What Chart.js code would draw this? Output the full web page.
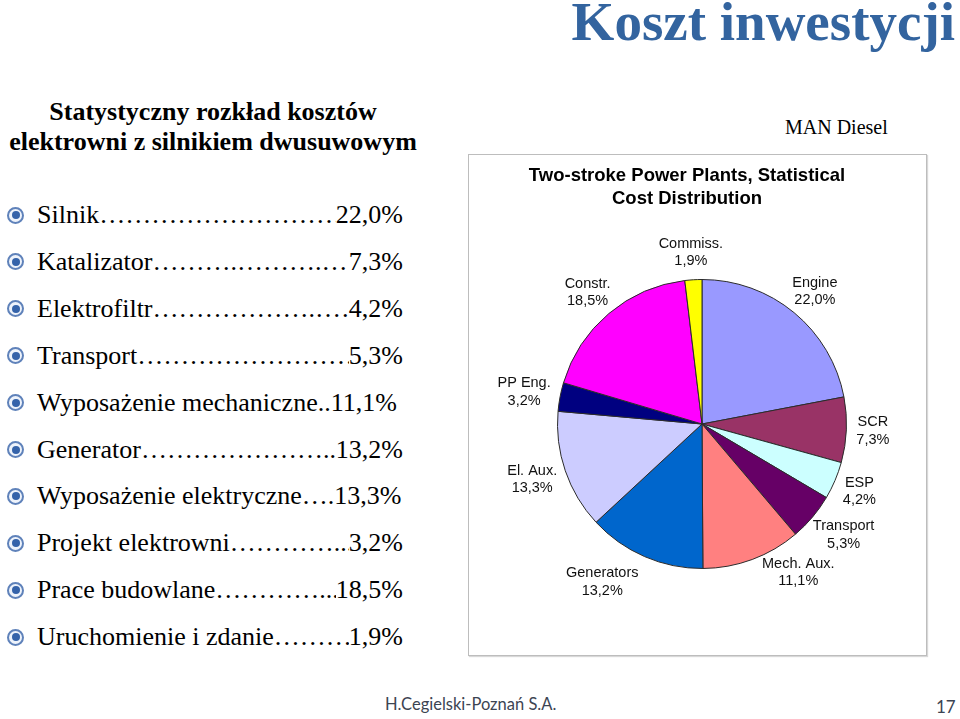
<!DOCTYPE html>
<html>
<head>
<meta charset="utf-8">
<title>Koszt inwestycji</title>
<script src="https://cdn.jsdelivr.net/npm/chart.js"></script>
<style>
  body { margin:0; width:960px; height:719px; background:#fff; position:relative; overflow:hidden;
         font-family:"Liberation Serif", "Times New Roman", serif; color:#000; }
  #head { position:absolute; right:5px; top:-10px; font-size:55px; font-weight:bold; color:#33649f; }
  #sub { position:absolute; left:0; width:426px; top:97px; text-align:center; font-weight:bold;
         font-size:26px; line-height:30px; }
  .row { position:absolute; left:7px; height:30px; display:flex; align-items:center; font-size:26px; }
  .bul { width:13px; height:13px; border:2px solid #5f82ba; border-radius:50%; background:#eef3fb;
         position:relative; margin-right:13px; flex:none; }
  .bul::after { content:""; position:absolute; left:2.5px; top:2.5px; width:8px; height:8px; border-radius:50%; background:#3563aa; }
  .txt { max-width:366px; display:flex; white-space:nowrap; }
  .lead { flex:0 1 auto; min-width:0; overflow:hidden; }
  .val { flex:none; }
  #man { position:absolute; left:785px; top:116px; font-size:20px; }
  #box { position:absolute; left:468px; top:154px; width:457px; height:500px; border:1px solid #bdbdbd;
         box-shadow:1px 1px 1px #d8d8d8; }
  #foot { position:absolute; left:385px; top:694px; font-family:Lato, "Open Sans", sans-serif; font-size:16.5px; color:#3c4452; }
  #page { position:absolute; left:936px; top:696px; font-family:Lato, "Open Sans", sans-serif; font-size:17px; color:#3c4452; }
</style>
</head>
<body>
<div id="head">Koszt inwestycji</div>
<div id="sub">Statystyczny rozkład kosztów<br>elektrowni z silnikiem dwusuwowym</div>
<div id="list"></div>
<div id="man">MAN Diesel</div>
<div id="box"><canvas id="pie" width="457" height="500"></canvas></div>
<div id="foot">H.Cegielski-Poznań S.A.</div>
<div id="page">17</div>

<script>
  // data
  const plLabels = ['Silnik', 'Katalizator', 'Elektrofiltr', 'Transport', 'Wyposażenie mechaniczne',
                    'Generator', 'Wyposażenie elektryczne', 'Projekt elektrowni', 'Prace budowlane',
                    'Uruchomienie i zdanie'];
  const leaders = ['……………………………', '……….……….……', '……………….……', '……………………………', '..',
                   '…………………..', '….', '…………...', '…………...', '………'];
  const enLabels = ['Engine', 'SCR', 'ESP', 'Transport', 'Mech. Aux.', 'Generators', 'El. Aux.',
                    'PP Eng.', 'Constr.', 'Commiss.'];
  const values = [22.0, 7.3, 4.2, 5.3, 11.1, 13.2, 13.3, 3.2, 18.5, 1.9];
  const colors = ['#9999ff', '#993366', '#ccffff', '#660066', '#ff8080', '#0066cc', '#ccccff',
                  '#000080', '#ff00ff', '#ffff00'];
  const chartTitle = ['Two-stroke Power Plants, Statistical', 'Cost Distribution'];

  const fmt = v => v.toFixed(1).replace('.', ',') + '%';

  // left list
  const list = document.getElementById('list');
  plLabels.forEach((name, i) => {
    const row = document.createElement('div');
    row.className = 'row';
    row.style.top = (200 + i * 46.9) + 'px';
    row.innerHTML = '<span class="bul"></span><span class="txt"><span>' + name + '</span><span class="lead">' +
      leaders[i] + '</span><span class="val">' + fmt(values[i]) + '</span></span>';
    list.appendChild(row);
  });

  // labels outside the slices, like excel does
  const sliceLabels = {
    id: 'sliceLabels',
    afterDatasetsDraw(chart, args, opts) {
      const ctx = chart.ctx;
      const arcs = chart.getDatasetMeta(0).data;
      const lh = 17.5;
      ctx.save();
      ctx.font = '14.5px "Liberation Sans", Arial, sans-serif';
      ctx.fillStyle = '#111';
      ctx.textAlign = 'center';
      ctx.textBaseline = 'middle';
      arcs.forEach((arc, i) => {
        const p = arc.getProps(['x', 'y', 'startAngle', 'endAngle', 'outerRadius'], true);
        const mid = (p.startAngle + p.endAngle) / 2;
        const ux = Math.cos(mid), uy = Math.sin(mid);
        const lines = [enLabels[i], fmt(values[i])];
        const w = Math.max(...lines.map(t => ctx.measureText(t).width));
        const nudge = opts.nudge[enLabels[i]] || [0, 0];
        const ax = p.x + ux * (p.outerRadius + 10);
        const ay = p.y + uy * (p.outerRadius + 10);
        const cx = ax + ux * w / 2 + nudge[0];
        const cy = ay + uy * lh + nudge[1];
        lines.forEach((t, k) => ctx.fillText(t, cx, cy + (k - 0.5) * lh));
      });
      // chart title
      ctx.font = 'bold 18.5px "Liberation Sans", Arial, sans-serif';
      ctx.fillStyle = '#000';
      chartTitle.forEach((t, k) => ctx.fillText(t, 218, 21 + k * 23));
      ctx.restore();
    }
  };

  new Chart(document.getElementById('pie'), {
    type: 'pie',
    data: {
      labels: enLabels,
      datasets: [{
        data: values,
        backgroundColor: colors,
        borderColor: '#2b2b2b',
        borderWidth: 1
      }]
    },
    options: {
      responsive: false,
      animation: false,
      layout: { padding: { left: 88, top: 124, right: 79, bottom: 86 } },
      plugins: {
        legend: { display: false },
        tooltip: { enabled: false },
        sliceLabels: { nudge: { 'Mech. Aux.': [30, -13], 'Generators': [-24, 0] } }
      }
    },
    plugins: [sliceLabels]
  });
</script>
</body>
</html>
